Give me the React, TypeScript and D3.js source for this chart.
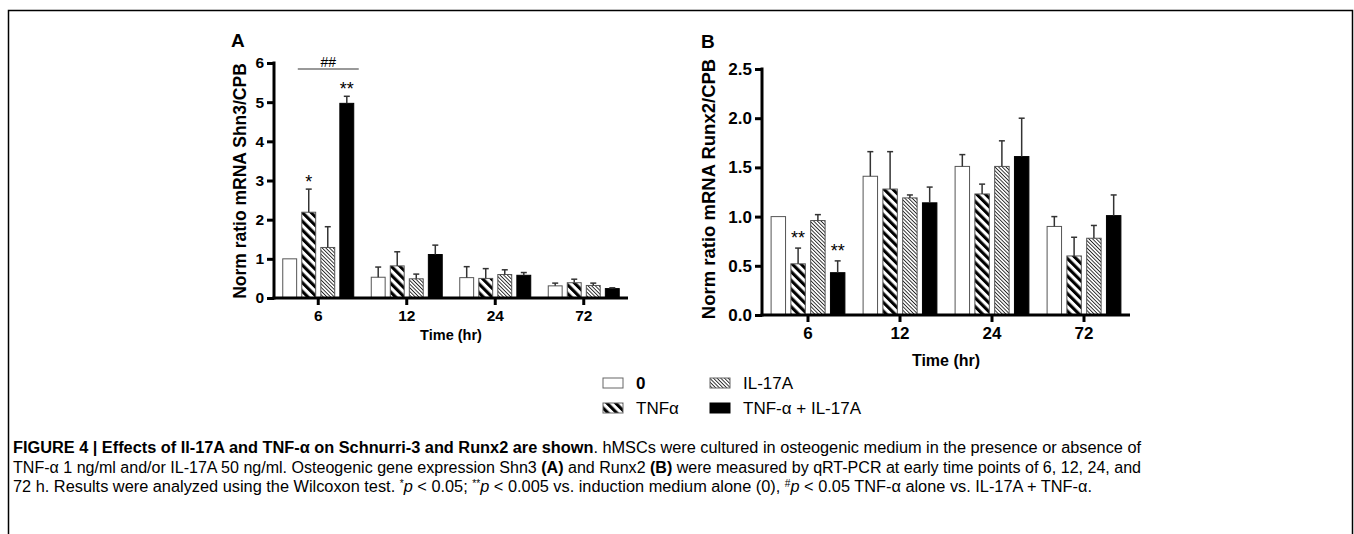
import React, { useEffect, useRef } from "react";
import * as d3 from "d3";

// categories
const times = ["6", "12", "24", "72"];
const groups = ["0", "TNFα", "IL-17A", "TNF-α + IL-17A"];

// panel A - Shn3 (mean, sem) per group, one value per time point
const shn3Ctrl = [1.0, 0.53, 0.52, 0.31];
const shn3CtrlErr = [0, 0.26, 0.28, 0.07];
const shn3Tnf = [2.19, 0.82, 0.5, 0.39];
const shn3TnfErr = [0.59, 0.36, 0.25, 0.09];
const shn3Il17 = [1.29, 0.49, 0.6, 0.32];
const shn3Il17Err = [0.53, 0.12, 0.12, 0.06];
const shn3Both = [4.97, 1.11, 0.58, 0.24];
const shn3BothErr = [0.18, 0.24, 0.07, 0.02];

// panel B - Runx2
const runxCtrl = [1.0, 1.41, 1.51, 0.9];
const runxCtrlErr = [0, 0.25, 0.12, 0.1];
const runxTnf = [0.52, 1.28, 1.23, 0.6];
const runxTnfErr = [0.16, 0.38, 0.1, 0.19];
const runxIl17 = [0.96, 1.19, 1.51, 0.78];
const runxIl17Err = [0.06, 0.03, 0.26, 0.13];
const runxBoth = [0.43, 1.14, 1.61, 1.01];
const runxBothErr = [0.12, 0.16, 0.39, 0.21];

const shn3Ticks = [0, 1, 2, 3, 4, 5, 6];
const runxTicks = [0, 0.5, 1.0, 1.5, 2.0, 2.5];

// significance marks: [time index, group index, label]
const shn3Stars: [number, number, string][] = [[0, 1, "*"], [0, 3, "**"]];
const runxStars: [number, number, string][] = [[0, 1, "**"], [0, 3, "**"]];

const FONT = "Liberation Sans, Arial, Helvetica, sans-serif";
const fills = ["#ffffff", "url(#stripeThick)", "url(#stripeThin)", "#000000"];

function drawPanel(svg, cfg) {
  const g = svg.append("g");
  const x0 = d3.scaleBand().domain(times).range(cfg.xRange);
  const x1 = d3.scaleBand().domain(groups).range([0, x0.bandwidth()])
    .paddingInner(0.27).paddingOuter(0.46);
  const y = d3.scaleLinear().domain([0, cfg.yMax]).range(cfg.yRange);

  const rows = cfg.means.map((m, gi) => m.map((v, ti) => ({
    gi, ti, v, e: cfg.errs[gi][ti]
  }))).flat();

  // bars
  g.selectAll("rect.bar").data(rows).enter().append("rect")
    .attr("x", d => x0(times[d.ti]) + x1(groups[d.gi]))
    .attr("y", d => y(d.v))
    .attr("width", x1.bandwidth())
    .attr("height", d => y(0) - y(d.v))
    .attr("fill", d => fills[d.gi])
    .attr("stroke", d => d.gi === 3 ? "#000" : "#555")
    .attr("stroke-width", 1);

  // error bars (upper only)
  const eb = g.selectAll("g.err").data(rows.filter(d => d.e > 0)).enter().append("g");
  const cx = d => x0(times[d.ti]) + x1(groups[d.gi]) + x1.bandwidth() / 2;
  eb.append("line")
    .attr("x1", cx).attr("x2", cx)
    .attr("y1", d => y(d.v)).attr("y2", d => y(d.v + d.e))
    .attr("stroke", "#333").attr("stroke-width", 1.5);
  eb.append("line")
    .attr("x1", d => cx(d) - 3).attr("x2", d => cx(d) + 3)
    .attr("y1", d => y(d.v + d.e)).attr("y2", d => y(d.v + d.e))
    .attr("stroke", "#333").attr("stroke-width", 1.5);

  // stars
  g.selectAll("text.star").data(cfg.stars).enter().append("text")
    .attr("x", d => x0(times[d[0]]) + x1(groups[d[1]]) + x1.bandwidth() / 2)
    .attr("y", d => y(cfg.means[d[1]][d[0]] + cfg.errs[d[1]][d[0]]) - cfg.starGap)
    .attr("text-anchor", "middle")
    .attr("font-family", FONT).attr("font-size", 18)
    .text(d => d[2]);

  // axes
  const yAxis = g.append("g")
    .attr("transform", `translate(${cfg.xRange[0]},0)`)
    .call(d3.axisLeft(y).tickValues(cfg.ticks).tickFormat(cfg.fmt)
      .tickSize(7).tickSizeOuter(0).tickPadding(3));
  const xAxis = g.append("g")
    .attr("transform", `translate(0,${cfg.yRange[0]})`)
    .call(d3.axisBottom(x0).tickSize(7).tickSizeOuter(0).tickPadding(5));
  [yAxis, xAxis].forEach(a => {
    a.attr("font-family", FONT).attr("font-size", cfg.tickSize).attr("font-weight", "bold");
    a.select(".domain").attr("stroke-width", 3).attr("stroke", "#000");
    a.selectAll(".tick line").attr("stroke-width", 3).attr("stroke", "#000");
    a.selectAll(".tick text").attr("fill", "#000");
  });
  // extend domain lines to meet at corner
  yAxis.select(".domain").attr("d", `M0,${cfg.yRange[1] - 1.5}V${cfg.yRange[0] + 1.5}`);
  xAxis.select(".domain").attr("d", `M${cfg.xRange[0] - 1.5},0H${cfg.xRange[1]}`);

  // titles
  g.append("text")
    .attr("x", (cfg.xRange[0] + cfg.xRange[1]) / 2)
    .attr("y", cfg.timeY)
    .attr("text-anchor", "middle")
    .attr("font-family", FONT).attr("font-size", cfg.timeSize).attr("font-weight", "bold")
    .text("Time (hr)");
  g.append("text")
    .attr("transform", `translate(${cfg.yLabelX},${cfg.yLabelY}) rotate(-90)`)
    .attr("text-anchor", "middle")
    .attr("font-family", FONT).attr("font-size", cfg.yLabelSize).attr("font-weight", "bold")
    .text(cfg.yLabel);
  g.append("text")
    .attr("x", cfg.letter[0]).attr("y", cfg.letter[1])
    .attr("font-family", FONT).attr("font-size", 19).attr("font-weight", "bold")
    .text(cfg.letterText);

  return { x0, x1, y };
}

export default function App() {
  const ref = useRef<SVGSVGElement>(null);

  useEffect(() => {
    const svg = d3.select(ref.current);
    svg.selectAll("g.charts").remove();
    const root = svg.append("g").attr("class", "charts");

    const a = drawPanel(root, {
      xRange: [274, 628], yRange: [298, 63], yMax: 6,
      ticks: shn3Ticks, fmt: d3.format("d"), tickSize: 15.5,
      means: [shn3Ctrl, shn3Tnf, shn3Il17, shn3Both],
      errs: [shn3CtrlErr, shn3TnfErr, shn3Il17Err, shn3BothErr],
      stars: shn3Stars, starGap: 1,
      timeY: 340, timeSize: 14.5,
      yLabel: "Norm ratio mRNA Shn3/CPB", yLabelX: 246, yLabelY: 181, yLabelSize: 17.5,
      letter: [231, 47], letterText: "A"
    });
    // ## bracket between TNFα and TNF-α + IL-17A at 6 h
    const bx1 = a.x0(times[0]) + a.x1(groups[1]) - 4;
    const bx2 = a.x0(times[0]) + a.x1(groups[3]) + a.x1.bandwidth() + 5;
    const by = a.y(5.85);
    root.append("line").attr("x1", bx1).attr("x2", bx2).attr("y1", by).attr("y2", by)
      .attr("stroke", "#777").attr("stroke-width", 1.5);
    root.append("text").attr("x", (bx1 + bx2) / 2).attr("y", by - 2)
      .attr("text-anchor", "middle").attr("font-family", FONT).attr("font-size", 14)
      .text("##");

    drawPanel(root, {
      xRange: [762, 1130], yRange: [315, 69], yMax: 2.5,
      ticks: runxTicks, fmt: d3.format(".1f"), tickSize: 17,
      means: [runxCtrl, runxTnf, runxIl17, runxBoth],
      errs: [runxCtrlErr, runxTnfErr, runxIl17Err, runxBothErr],
      stars: runxStars, starGap: 4,
      timeY: 366, timeSize: 16,
      yLabel: "Norm ratio mRNA Runx2/CPB", yLabelX: 715, yLabelY: 189, yLabelSize: 18.5,
      letter: [701, 48], letterText: "B"
    });

    // legend
    const lg = root.append("g");
    const legendPos = [[603, 378], [603, 403], [710, 378], [710, 403]];
    groups.forEach((name, i) => {
      const [lx, ly] = legendPos[i];
      lg.append("rect").attr("x", lx).attr("y", ly).attr("width", 20).attr("height", 10)
        .attr("fill", fills[i]).attr("stroke", i === 3 ? "#000" : "#666").attr("stroke-width", 1);
      lg.append("text").attr("x", lx + 33).attr("y", ly + 11)
        .attr("font-family", FONT).attr("font-size", 17)
        .attr("font-weight", i === 0 ? "bold" : "normal")
        .text(name);
    });
  }, []);

  const cap = { fontFamily: FONT, fontSize: 16 };
  return (
    <svg ref={ref} width={1354} height={534}
      style={{ position: "absolute", left: 0, top: 0, display: "block", background: "#fff" }}>
      <defs>
        <pattern id="stripeThick" width="6.2" height="6.2" patternUnits="userSpaceOnUse"
          patternTransform="rotate(-45)">
          <rect width="6.2" height="6.2" fill="#fff" />
          <rect width="3.1" height="6.2" fill="#000" />
        </pattern>
        <pattern id="stripeThin" width="2.6" height="2.6" patternUnits="userSpaceOnUse"
          patternTransform="rotate(-45)">
          <rect width="2.6" height="2.6" fill="#fff" />
          <rect width="0.9" height="2.6" fill="#222" />
        </pattern>
      </defs>
      <path d="M8.5,534V10.5H1352.5V534" fill="none" stroke="#000" strokeWidth={1.5} />
      <text x={13} y={453} {...cap} textLength={1128} lengthAdjust="spacingAndGlyphs">
        <tspan fontWeight="bold">FIGURE 4 | Effects of Il-17A and TNF-α on Schnurri-3 and Runx2 are shown</tspan>
        <tspan>. hMSCs were cultured in osteogenic medium in the presence or absence of</tspan>
      </text>
      <text x={13} y={473} {...cap} textLength={1128} lengthAdjust="spacingAndGlyphs">
        <tspan>TNF-α 1 ng/ml and/or IL-17A 50 ng/ml. Osteogenic gene expression Shn3 </tspan>
        <tspan fontWeight="bold">(A)</tspan>
        <tspan> and Runx2 </tspan>
        <tspan fontWeight="bold">(B)</tspan>
        <tspan> were measured by qRT-PCR at early time points of 6, 12, 24, and</tspan>
      </text>
      <text x={13} y={492} {...cap} textLength={1079} lengthAdjust="spacingAndGlyphs">
        <tspan>72 h. Results were analyzed using the Wilcoxon test. </tspan>
        <tspan fontSize={10} dy={-5}>*</tspan>
        <tspan fontStyle="italic" dy={5}>p</tspan>
        <tspan> {"<"} 0.05; </tspan>
        <tspan fontSize={10} dy={-5}>**</tspan>
        <tspan fontStyle="italic" dy={5}>p</tspan>
        <tspan> {"<"} 0.005 vs. induction medium alone (0), </tspan>
        <tspan fontSize={10} dy={-5}>#</tspan>
        <tspan fontStyle="italic" dy={5}>p</tspan>
        <tspan> {"<"} 0.05 TNF-α alone vs. IL-17A + TNF-α.</tspan>
      </text>
    </svg>
  );
}
